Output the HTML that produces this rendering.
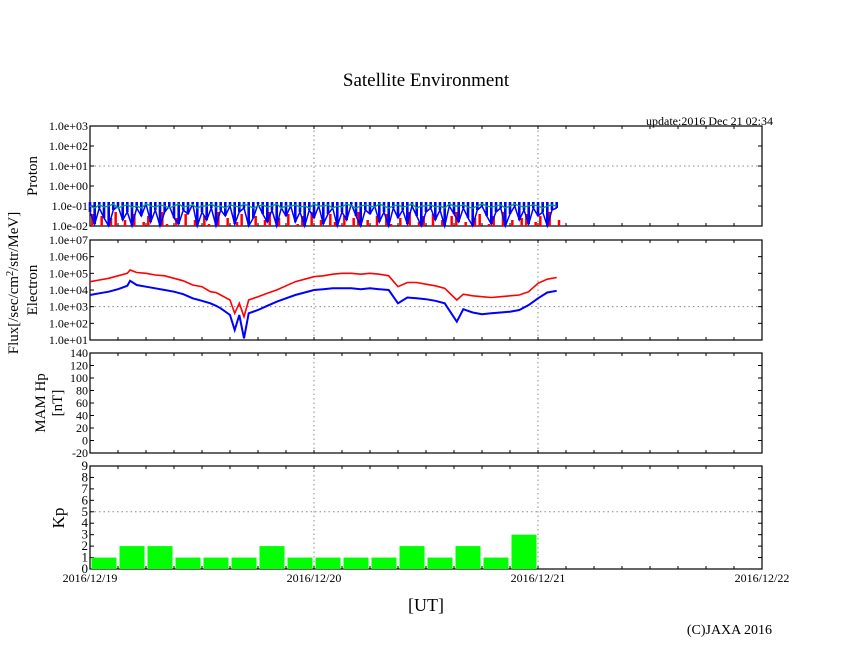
<!DOCTYPE html>
<html><head><meta charset="utf-8"><style>
body{margin:0;background:#fff;}
svg{display:block;font-family:"Liberation Serif",serif;}
</style></head><body>
<svg id="c" width="846" height="655" xmlns="http://www.w3.org/2000/svg">
<text x="426" y="86" font-size="19" text-anchor="middle">Satellite Environment</text>
<text x="773" y="125" font-size="12" text-anchor="end">update:2016 Dec 21 02:34</text>
<text x="426" y="611" font-size="18" text-anchor="middle">[UT]</text>
<text x="772" y="634" font-size="14" text-anchor="end">(C)JAXA 2016</text>
<text transform="translate(18,283) rotate(-90)" font-size="15" text-anchor="middle">Flux[/sec/cm<tspan dy="-5" font-size="10">2</tspan><tspan dy="5">/str/MeV]</tspan></text>
<text transform="translate(37,176) rotate(-90)" font-size="15" text-anchor="middle">Proton</text>
<text transform="translate(37,290) rotate(-90)" font-size="15" text-anchor="middle">Electron</text>
<text transform="translate(45,403) rotate(-90)" font-size="15" text-anchor="middle">MAM Hp</text>
<text transform="translate(62,403) rotate(-90)" font-size="15" text-anchor="middle">[nT]</text>
<text transform="translate(64,518) rotate(-90)" font-size="17" text-anchor="middle">Kp</text>
<g id="g"></g>
</svg>
<script>
// data
const dayLabels=["2016/12/19","2016/12/20","2016/12/21","2016/12/22"];
const protonTicks=["1.0e-02","1.0e-01","1.0e+00","1.0e+01","1.0e+02","1.0e+03"];
const electronTicks=["1.0e+01","1.0e+02","1.0e+03","1.0e+04","1.0e+05","1.0e+06","1.0e+07"];
const mamTicks=[-20,0,20,40,60,80,100,120,140];
const kpTicks=[0,1,2,3,4,5,6,7,8,9];
const kpValues=[1,2,2,1,1,1,2,1,1,1,1,2,1,2,1,3];
// electron: hours and log10 flux
const eHours=[0,1,2,3,4,4.3,5,6,7,8,9,10,11,12,12.9,13.5,14,15,15.5,16,16.5,17,18,19,20,21,22,23,24,25,26,27,28,29,30,31,32,33,34,35,36,37,38,39.3,40,41,42,43,44,45,46,47,48,49,50];
const eRed=[4.5,4.6,4.7,4.85,5.0,5.2,5.05,5.0,4.9,4.85,4.7,4.55,4.3,4.2,3.9,3.85,3.7,3.4,2.6,3.2,2.4,3.4,3.6,3.8,4.0,4.25,4.5,4.65,4.8,4.85,4.95,5.0,5.0,4.95,5.0,4.95,4.85,4.2,4.45,4.45,4.35,4.25,4.1,3.4,3.75,3.65,3.6,3.55,3.6,3.65,3.7,3.9,4.4,4.65,4.75];
const eBlue=[3.7,3.8,3.9,4.05,4.25,4.55,4.3,4.2,4.1,4.0,3.9,3.75,3.5,3.35,3.2,3.05,2.9,2.5,1.6,2.5,1.1,2.6,2.8,3.05,3.3,3.5,3.7,3.85,4.0,4.05,4.1,4.1,4.1,4.05,4.1,4.05,4.0,3.2,3.55,3.5,3.45,3.35,3.2,2.1,2.85,2.65,2.55,2.6,2.65,2.7,2.8,3.1,3.5,3.85,3.95];
// proton (log10) sampled every 0.5 h
const pBlue=[-1.3,-1.9,-1.1,-1.6,-2,-1.2,-1.0,-1.7,-1.3,-2,-1.1,-1.5,-0.9,-1.8,-1.2,-2,-1.3,-1.0,-1.6,-1.9,-1.2,-1.4,-0.9,-2,-1.3,-1.7,-1.1,-2,-1.2,-1.5,-1.0,-1.9,-1.3,-1.1,-2,-1.6,-0.9,-1.4,-1.8,-1.2,-2,-1.1,-1.5,-1.0,-1.8,-1.3,-2,-1.2,-1.6,-1.0,-1.9,-1.4,-1.1,-2,-1.3,-1.7,-0.9,-1.5,-2,-1.2,-1.4,-1.0,-1.8,-1.3,-2,-1.1,-1.6,-1.2,-1.9,-1.0,-1.5,-2,-1.3,-1.1,-1.7,-1.2,-2,-1.0,-1.4,-1.8,-1.1,-1.6,-2,-1.2,-1.0,-1.5,-1.9,-1.3,-1.1,-2,-1.4,-1.0,-1.7,-1.2,-1.9,-1.1,-1.5,-1.3,-2,-1.2,-1.1];
const pGreen=[-1.0,-1.1,-0.95,-1.05,-1.0,-0.9,-1.1,-1.0,-0.95,-1.05,-1.0,-1.1,-0.9,-1.0,-1.05,-0.95,-1.0,-1.1,-1.0,-0.9,-1.05,-1.0,-0.95,-1.1,-1.0,-1.0,-0.9,-1.05,-1.0,-1.1,-0.95,-1.0,-1.05,-0.9,-1.0,-1.1,-1.0,-0.95,-1.05,-1.0,-0.9,-1.1,-1.0,-1.0,-0.95,-1.05,-1.0,-1.1,-0.9,-1.0,-1.0,-0.95,-1.1,-1.0,-1.05,-0.9,-1.0,-1.1,-1.0,-0.95,-1.0,-1.05,-0.9,-1.0,-1.1,-1.0,-0.95,-1.05,-1.0,-0.9,-1.1,-1.0,-1.0,-0.95,-1.05,-1.0,-1.1,-0.9,-1.0,-1.0,-0.95,-1.05,-1.1,-1.0,-0.9,-1.0,-1.05,-1.0,-0.95,-1.1,-1.0,-0.9,-1.0,-1.05,-1.0,-0.95,-1.0,-1.1,-1.0,-0.95,-1.0];
const pRed=[-1.4,-2,-1.5,-2,-1.6,-1.3,-2,-1.7,-2,-1.4,-2,-1.8,-1.5,-2,-2,-1.3,-1.9,-2,-1.6,-2,-1.4,-2,-1.7,-2,-1.5,-1.9,-2,-1.3,-2,-1.6,-2,-1.8,-1.4,-2,-2,-1.5,-2,-1.7,-1.3,-2,-1.6,-2,-1.4,-2,-1.9,-1.5,-2,-1.3,-2,-1.7,-2,-1.4,-1.8,-2,-1.5,-2,-1.6,-1.3,-2,-1.7,-2,-1.5,-2,-1.4,-1.9,-2,-1.6,-2,-1.3,-2,-1.8,-1.5,-2,-1.4,-2,-1.7,-2,-1.5,-1.3,-2,-1.8,-2,-1.6,-1.4,-2,-1.9,-1.5,-2,-1.3,-2,-1.7,-2,-1.6,-1.4,-2,-1.8,-1.5,-2,-1.3,-2,-1.7];

const NS="http://www.w3.org/2000/svg",G=document.getElementById('g');
const X0=90,X1=762,DAY=224;
const xh=h=>X0+h*DAY/24;
function el(t,a,p){const e=document.createElementNS(NS,t);for(const k in a)e.setAttribute(k,a[k]);(p||G).appendChild(e);return e;}
const panels=[
 {name:'proton',top:126,bot:226,min:-2,max:3,ticks:protonTicks,grid:1},
 {name:'electron',top:240,bot:340,min:1,max:7,ticks:electronTicks,grid:3},
 {name:'mam',top:353,bot:453,min:-20,max:140,ticks:mamTicks,grid:null},
 {name:'kp',top:466,bot:569,min:0,max:9,ticks:kpTicks,grid:5}
];
panels.forEach(p=>{p.y=v=>p.bot-(v-p.min)/(p.max-p.min)*(p.bot-p.top);});
panels.forEach(p=>{
 const g=el('g',{});
 
 
 for(let d=1;d<=2;d++){const l=el('line',{x1:X0+d*DAY,x2:X0+d*DAY,y1:p.top,y2:p.bot,stroke:'#888','stroke-dasharray':'1.5,3'},g);
  }
 if(p.grid!==null){const l=el('line',{x1:X0,x2:X1,y1:p.y(p.grid),y2:p.y(p.grid),stroke:'#888','stroke-dasharray':'1.5,3'},g);
  }
 for(let h=0;h<=72;h+=3){const x=xh(h);
  el('line',{x1:x,x2:x,y1:p.top,y2:p.top+3,stroke:'#000'},g);el('line',{x1:x,x2:x,y1:p.bot,y2:p.bot-3,stroke:'#000'},g);}
 p.ticks.forEach((t,i)=>{const v=p.name==='proton'||p.name==='electron'?p.min+i:t;const y=p.y(v);
  el('line',{x1:X0,x2:X0+4,y1:y,y2:y,stroke:'#000'},g);el('line',{x1:X1,x2:X1-4,y1:y,y2:y,stroke:'#000'},g);
  const tx=el('text',{x:X0-2,y:y+4,'font-size':p.name==='kp'?13:12,'text-anchor':'end'},g);tx.textContent=t;
  });
 const r=el('rect',{x:X0,y:p.top,width:X1-X0,height:p.bot-p.top,fill:'none',stroke:'#000','stroke-width':1.2},g);
 
});
// proton
const P=panels[0];
let s='';pRed.forEach((v,i)=>{const x=xh(i*0.5+0.25);s+=`M${x},${P.bot}V${P.y(v)}`;});
const pr=el('path',{d:s,stroke:'#f00','stroke-width':2.5,fill:'none'});

let sb='';pBlue.forEach((v,i)=>{const x=xh(i*0.5);sb+=`M${x.toFixed(1)},${P.y(v).toFixed(1)}V${P.y(-0.8).toFixed(1)}`;});
const pbb=el('path',{d:sb,stroke:'#00f','stroke-width':2.6,fill:'none'});

const line=(arr,hf,py)=>arr.map((v,i)=>(i?'L':'M')+xh(hf(i)).toFixed(1)+','+py(v).toFixed(1)).join('');
const pb=el('path',{d:line(pBlue,i=>i*0.5,P.y),stroke:'#00f','stroke-width':1.5,fill:'none'});

const pg=el('path',{d:line(pGreen,i=>i*0.5,P.y),stroke:'#0a5','stroke-width':1.4,fill:'none'});

// electron
const E=panels[1];
const er=el('path',{d:line(eRed,i=>eHours[i],E.y),stroke:'#f00','stroke-width':1.6,fill:'none'});

const eb=el('path',{d:line(eBlue,i=>eHours[i],E.y),stroke:'#00f','stroke-width':2,fill:'none'});

// kp
const K=panels[3];
kpValues.forEach((v,i)=>{const b=el('rect',{x:xh(i*3)+1.5,y:K.y(v),width:DAY/8-3,height:K.bot-K.y(v),fill:'#0f0'});
 });
// x labels
dayLabels.forEach((d,i)=>{const t=el('text',{x:X0+i*DAY,y:582,'font-size':12,'text-anchor':'middle'});t.textContent=d;
 });
</script>
</body></html>
